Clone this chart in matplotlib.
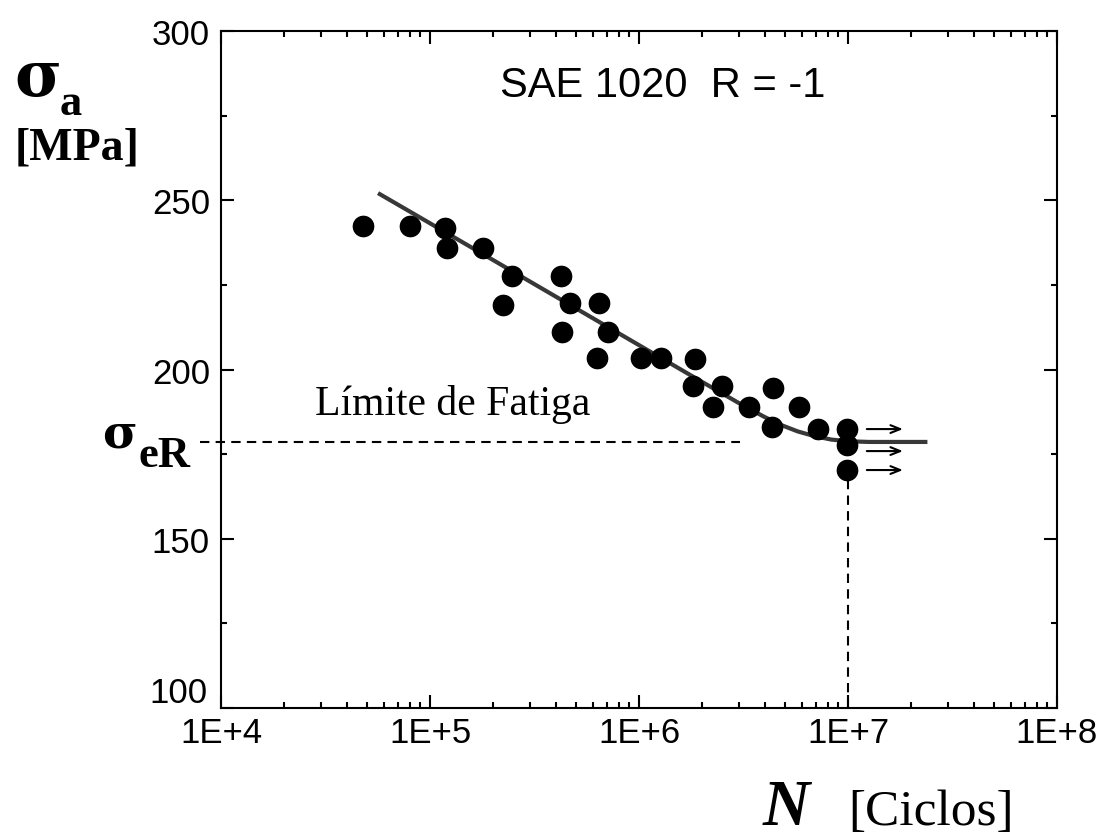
import numpy as np
import matplotlib
matplotlib.use("Agg")
import matplotlib.pyplot as plt
from matplotlib.ticker import LogLocator, MultipleLocator, FixedLocator, FuncFormatter, NullFormatter

# ensayos de fatiga SAE 1020, R = -1
ciclos = [4.78e4, 8.0e4, 1.18e5, 1.21e5, 1.80e5, 2.47e5, 2.23e5, 4.24e5, 4.67e5,
          6.44e5, 4.28e5, 7.10e5, 6.30e5, 1.02e6, 1.27e6, 1.85e6, 1.81e6, 2.50e6,
          2.26e6, 3.36e6, 4.37e6, 5.83e6, 4.33e6, 7.18e6, 9.9e6, 9.9e6, 9.9e6]
tension = [242.4, 242.4, 241.8, 235.9, 235.9, 227.6, 219.1, 227.6, 219.6,
           219.6, 211.1, 211.1, 203.4, 203.4, 203.4, 203.1, 195.1, 195.1,
           188.9, 188.9, 194.5, 188.9, 183.0, 182.4, 182.4, 177.7, 170.3]

# curva S-N ajustada
curva_logN = [4.76, 5.0, 5.5, 6.0, 6.3, 6.5, 6.6, 6.68, 6.76, 6.84, 6.92, 7.0, 7.1, 7.37]
curva_sigma = [251.8, 243.2, 225.2, 207.2, 196.4, 189.3, 186.0, 183.6, 181.7, 180.3,
               179.3, 178.8, 178.6, 178.6]

limite = 178.6
N_limite = 1e7
runout_sigma = [182.4, 175.9, 170.3]
runout_desde = 10 ** 7.09
runout_hasta = 10 ** 7.263

W, H = 1107, 837
fig = plt.figure(figsize=(W / 100, H / 100), dpi=100)
ax = fig.add_axes([221 / W, 1 - 709 / H, (1057 - 221) / W, (709 - 32) / H])


def px(x, y):
    return x / W, 1 - y / H


sans = "Liberation Sans"
serif = "Liberation Serif"
griega = "DejaVu Serif"

ax.plot(10 ** np.array(curva_logN), curva_sigma, color="#383838", lw=3, zorder=2)
ax.plot(ciclos, tension, "o", color="black", ms=14.6, zorder=3)

guion = (0, (4.5, 3))
ax.plot([10 ** 3.9, 3.04e6], [limite, limite], color="black", lw=1.5,
        ls=guion, clip_on=False, zorder=1)
ax.plot([N_limite, N_limite], [100, 170], color="black", lw=1.5, ls=guion, zorder=1)

for s in runout_sigma:
    ax.annotate("", xy=(runout_hasta, s), xytext=(runout_desde, s),
                arrowprops=dict(arrowstyle="->,head_length=0.7,head_width=0.28",
                                lw=1.5, color="black", shrinkA=0, shrinkB=0))

ax.set_xscale("log")
ax.set_xlim(1e4, 1e8)
ax.set_ylim(100, 300)
ax.xaxis.set_major_locator(FixedLocator([1e4, 1e5, 1e6, 1e7, 1e8]))
ax.xaxis.set_minor_locator(LogLocator(base=10, subs=np.arange(2, 10), numticks=20))
ax.xaxis.set_major_formatter(FuncFormatter(lambda v, p: "1E+%d" % round(np.log10(v))))
ax.xaxis.set_minor_formatter(NullFormatter())
ax.yaxis.set_major_locator(MultipleLocator(50))
ax.yaxis.set_minor_locator(MultipleLocator(25))
# el 100 se dibuja aparte, algo mas arriba, como en el original
ax.yaxis.set_major_formatter(FuncFormatter(lambda v, p: "" if v == 100 else "%d" % v))

ax.tick_params(which="both", direction="in", top=True, right=True, width=1.5)
ax.tick_params(which="major", length=9.4)
ax.tick_params(which="minor", length=4.3)
ax.tick_params(axis="x", which="major", pad=6)
ax.tick_params(axis="y", which="major", pad=8)
for lab in ax.get_xticklabels() + ax.get_yticklabels():
    lab.set_fontfamily(sans)
    lab.set_fontsize(25)
for sp in ax.spines.values():
    sp.set_linewidth(1.5)

fig.text(*px(208, 694), "100", family=sans, fontsize=25, ha="right", va="center")

fig.text(*px(500, 97), "SAE 1020  R = -1", family=sans, fontsize=30, va="baseline")
fig.text(*px(315, 415), "Límite de Fatiga", family=serif, fontsize=30, va="baseline")

fig.text(*px(763, 825), "N", family=serif, fontsize=47, weight="bold",
         style="italic", va="baseline")
fig.text(*px(848, 825), "[Ciclos]", family=serif, fontsize=37, va="baseline")

fig.text(*px(14, 96), "σ", family=griega, fontsize=46, weight="bold", va="baseline")
fig.text(*px(60, 115), "a", family=serif, fontsize=32, weight="bold", va="baseline")
fig.text(*px(15, 160), "[MPa]", family=serif, fontsize=33, weight="bold", va="baseline")

fig.text(*px(102, 448), "σ", family=griega, fontsize=34, weight="bold", va="baseline")
fig.text(*px(138, 467), "eR", family=serif, fontsize=32, weight="bold", va="baseline")

fig.savefig("out.png", dpi=100)
